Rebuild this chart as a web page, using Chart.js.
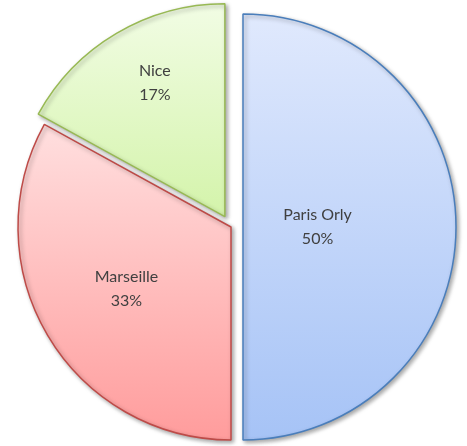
<!DOCTYPE html>
<html>
<head>
<meta charset="utf-8">
<script src="https://cdn.jsdelivr.net/npm/chart.js@4"></script>
<style>
	html, body { margin: 0; padding: 0; background: #ffffff; }
	#wrap { width: 467px; height: 446px; }
</style>
</head>
<body>
<div id="wrap"><canvas id="pie-chart"></canvas></div>
<script>
	// Data
	var labels = ['Paris Orly', 'Marseille', 'Nice'];
	var shares = [50, 33, 17];

	// Look
	var gradTop = ['#e0e9fd', '#ffdfdf', '#f3fde7'];
	var gradBottom = ['#a6c3f6', '#ff9c9c', '#d5f4ad'];
	var edgeColors = ['#4a7ebb', '#be4b48', '#98b954'];
	var explode = [12, 0, 12];
	var labelDist = [0.35, 0.57, 0.71];
	var labelTurn = [0, 0, 3]; // degrees, clockwise
	var pieRadius = 213;

	// slice angles (canvas radians, starting at 12 o'clock)
	function sliceAngles(i) {
		var total = shares.reduce(function (a, b) { return a + b; }, 0);
		var before = 0;
		for (var k = 0; k < i; k++) before += shares[k];
		var start = -Math.PI / 2 + (before / total) * Math.PI * 2;
		return [start, start + (shares[i] / total) * Math.PI * 2];
	}

	// gradient per slice, over its own vertical extent
	function sliceGradient(context) {
		var chart = context.chart;
		var i = context.dataIndex;
		var area = chart.chartArea;
		if (!area) return gradBottom[i];
		var ang = sliceAngles(i);
		var mid = (ang[0] + ang[1]) / 2;
		var cy = (area.top + area.bottom) / 2 + Math.sin(mid) * explode[i];
		var ys = [cy];
		for (var a = ang[0]; a <= ang[1]; a += 0.02) ys.push(cy + Math.sin(a) * pieRadius);
		ys.push(cy + Math.sin(ang[1]) * pieRadius);
		var g = chart.ctx.createLinearGradient(0, Math.min.apply(null, ys), 0, Math.max.apply(null, ys));
		g.addColorStop(0, gradTop[i]);
		g.addColorStop(1, gradBottom[i]);
		return g;
	}

	// Draw slices pulled out along their middle, with a soft shadow
	var explodePlugin = {
		id: 'explode',
		beforeDatasetDraw: function (chart, args) {
			var ctx = chart.ctx;
			args.meta.data.forEach(function (el, i) {
				var mid = (el.startAngle + el.endAngle) / 2;
				ctx.save();
				ctx.shadowColor = 'rgba(0, 0, 0, 0.35)';
				ctx.shadowBlur = 4;
				ctx.shadowOffsetX = 2;
				ctx.shadowOffsetY = 2;
				ctx.translate(Math.cos(mid) * explode[i], Math.sin(mid) * explode[i]);
				el.draw(ctx, chart.chartArea);
				ctx.restore();
			});
			return false;
		},
	};

	// Slice labels: name + percent
	var labelPlugin = {
		id: 'sliceLabels',
		afterDatasetsDraw: function (chart) {
			var ctx = chart.ctx;
			var meta = chart.getDatasetMeta(0);
			ctx.save();
			ctx.fillStyle = '#404040';
			ctx.font = '16px Lato, "Open Sans", sans-serif';
			ctx.textAlign = 'center';
			ctx.textBaseline = 'middle';
			meta.data.forEach(function (el, i) {
				var mid = (el.startAngle + el.endAngle) / 2;
				var ox = Math.cos(mid) * explode[i];
				var oy = Math.sin(mid) * explode[i];
				var la = mid + (labelTurn[i] * Math.PI) / 180;
				var r = el.outerRadius * labelDist[i];
				var x = el.x + ox + Math.cos(la) * r;
				var y = el.y + oy + Math.sin(la) * r;
				ctx.fillText(labels[i], x, y - 12);
				ctx.fillText(shares[i] + '%', x, y + 12);
			});
			ctx.restore();
		},
	};

	var ctx1 = document.getElementById('pie-chart').getContext('2d');
	var myChart1 = new Chart(ctx1, {
		type: 'pie',
		data: {
			labels: labels,
			datasets: [
				{
					data: shares,
					backgroundColor: sliceGradient,
					borderColor: edgeColors,
					borderWidth: 1.5,
					hoverOffset: 0,
				},
			],
		},
		options: {
			responsive: true,
			maintainAspectRatio: false,
			animation: false,
			radius: pieRadius,
			layout: { padding: { left: 0, right: 5, top: 8, bottom: 0 } },
			plugins: {
				legend: { display: false },
				tooltip: { enabled: false },
			},
		},
		plugins: [explodePlugin, labelPlugin],
	});
</script>
</body>
</html>
